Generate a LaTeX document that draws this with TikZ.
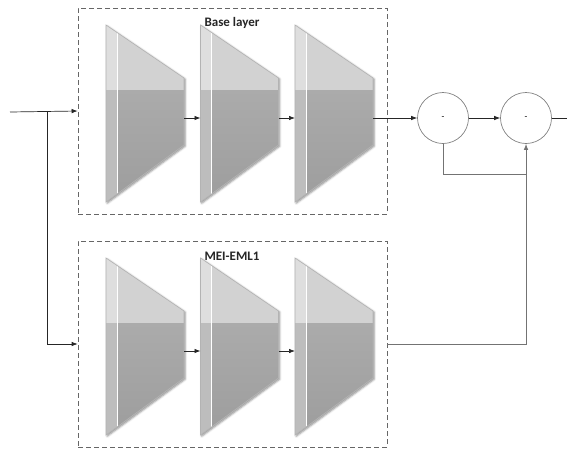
\documentclass[tikz,border=0pt]{standalone}
\usepackage{fontspec}
\setmainfont{Carlito}
\usepackage{tikz}
\usetikzlibrary{arrows.meta,positioning,shadows.blur}

\definecolor{enclight}{HTML}{D2D2D2}
\definecolor{encdarkA}{HTML}{ABABAB}
\definecolor{encdarkB}{HTML}{9D9D9D}
\definecolor{striplight}{HTML}{DEDEDE}
\definecolor{stripdark}{HTML}{BDBDBD}
\definecolor{encedge}{HTML}{B3B3B3}

\newcommand{\encoder}[3]{%
  \begin{scope}[shift={(#2,#3)}]
    \fill[enclight, blur shadow={shadow xshift=1.2pt, shadow yshift=-1.2pt,
          shadow blur radius=2pt, shadow opacity=45}]
      (0,0) -- (78,53) -- (78,120) -- (0,177) -- cycle;
    \begin{scope}
      \clip (0,0) -- (78,53) -- (78,120) -- (0,177) -- cycle;
      \shade[top color=encdarkA, bottom color=encdarkB] (0,65) rectangle (78,177);
      \fill[striplight] (0,0) rectangle (11,65);
      \fill[stripdark] (0,65) rectangle (11,177);
    \end{scope}
    \draw[white, line width=0.8pt] (11,8) -- (11,169);
    \draw[encedge, line width=0.6pt] (0,0) -- (78,53) -- (78,120) -- (0,177) -- cycle;
    \coordinate (#1-in) at (0,93);
    \coordinate (#1-out) at (78,93);
  \end{scope}}

\begin{document}
\begin{tikzpicture}[
    x=1pt, y=-1pt,
    group/.style={draw=black!60, dashed, dash pattern=on 5pt off 3pt,
                  line width=0.7pt, minimum width=309pt, minimum height=206pt},
    title/.style={font=\fontsize{13}{15}\selectfont\bfseries, text=black!85},
    diff/.style={draw=black!50, circle, line width=0.7pt, minimum size=51pt,
                 inner sep=0pt, font=\small},
    arr/.style={draw=black!85, line width=0.7pt, -{Latex[length=6pt,width=4.5pt]}},
    fb/.style={draw=black!55, line width=0.8pt}
  ]
  \useasboundingbox (0,0) rectangle (567,448);

  \node[group] (base) at (232.5,111) {};
  \node[group] (mei)  at (232.5,344) {};
  \node[title] (basetitle) at (232,23)  {Base layer};
  \node[title] (meititle)  at (232,256) {MEI-EML1};

  \foreach \i/\x in {1/106, 2/200.5, 3/295} {
    \encoder{b\i}{\x}{25}
    \encoder{m\i}{\x}{258}
  }
  \foreach \i/\j in {1/2, 2/3} {
    \draw[arr] (b\i-out) -- (b\j-in);
    \draw[arr] (m\i-out) -- (m\j-in);
  }

  \node[diff] (s1) at (443,118) {-};
  \node[diff] (s2) at (526,118) {-};

  \coordinate (in)    at (10,112);
  \coordinate (split) at (47,112);
  \coordinate (out)   at (567,118);
  \coordinate (join)  at (526,174);

  \draw[arr] (in) -- (base.west);
  \draw[arr] (split) |- (mei.west);
  \draw[arr] (b3-out) -- (s1);
  \draw[arr] (s1) -- (s2);
  \draw[draw=black!85, line width=0.7pt] (s2) -- (out);
  \draw[fb] (s1.south) |- (join);
  \draw[fb, -{Latex[length=6pt,width=4.5pt]}] (mei.east) -| (s2.south);
\end{tikzpicture}
\end{document}
